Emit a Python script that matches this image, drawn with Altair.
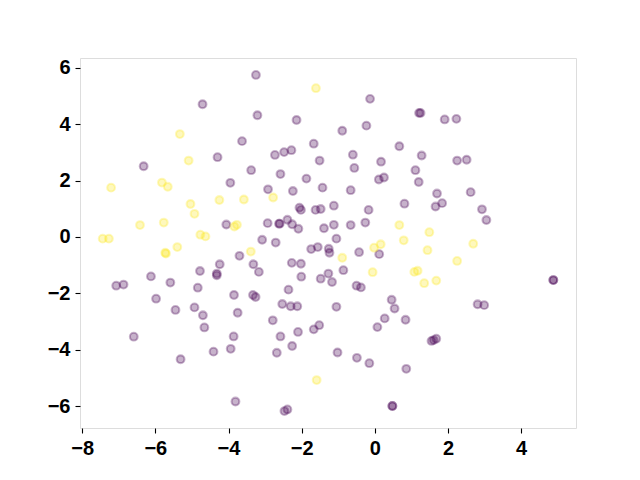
import altair as alt
import pandas as pd

# class 0 (purple) points
purple_x = [-4.71, -3.63, -4.30, -6.32, -3.95,
            -3.25, -0.13, -3.21, -2.14, -0.89, -0.23, -1.67, 0.67, -2.73, -2.48, -2.28, -0.60, -1.51, 0.17,
            -3.38, -2.58, -0.56, -1.87, 0.11, 0.25,
            1.21, 1.25, 1.91, 2.23, 1.28, 2.25, 2.51, 1.11, 1.20,
            -4.06, -3.70, -4.24, -4.32, -4.32, -4.78, -6.12, -7.07, -6.87, -5.59, -4.84, -3.85, -5.98, -4.93,
            -2.92, -2.24, -1.43, -0.66, 0.81, -2.06, -2.02, -1.62, -1.48, -1.12, -0.17, -2.93, -2.62, -2.60,
            -2.39, -2.26, -2.09, -1.39, -1.12, -0.66, -0.26, -3.08, -2.71, -1.05, -1.74, -1.56, -1.26, -1.24,
            -0.43, 0.12, -3.32, -3.17, -2.27, -2.02, -2.01, -1.48, -1.27, -1.17, -0.86, -2.36, -0.50, -0.38,
            -3.33, -3.26, 0.46, -2.53, -2.30, -2.12, -1.05, 0.54,
            1.70, 2.62, 1.66, 1.84, 2.93, 3.05, 4.88, 4.88, 2.81, 2.99,
            -5.45, -4.70, -3.75, -4.66, -6.59, -3.86, -3.94, -4.41, -5.31, -3.81,
            0.27, 0.84, 0.07, -2.79, -2.58, -2.10, -1.67, -1.52, -2.68, -2.26, -1.02, -0.49, -0.15, 0.86,
            -2.47, -2.39, 0.48, 0.48,
            1.55, 1.61, 1.68]
purple_y = [4.71, 3.40, 2.83, 2.51, 1.92,
            5.75, 4.90, 4.32, 4.15, 3.77, 3.95, 3.31, 3.22, 2.91, 3.01, 3.08, 2.92, 2.71, 2.67,
            2.37, 2.23, 2.45, 2.07, 2.04, 2.11,
            4.40, 4.40, 4.17, 4.19, 2.89, 2.71, 2.74, 2.37, 1.95,
            0.44, -0.67, -0.97, -1.30, -1.36, -1.21, -1.40, -1.73, -1.69, -1.62, -1.80, -2.06, -2.19, -2.50,
            1.69, 1.63, 1.75, 1.66, 1.18, 1.04, 0.96, 0.96, 0.99, 1.11, 0.96, 0.49, 0.47, 0.47,
            0.61, 0.45, 0.29, 0.31, 0.43, 0.42, 0.51, -0.10, -0.20, -0.06, -0.43, -0.36, -0.42, -0.56,
            -0.54, -0.61, -0.97, -1.24, -0.92, -0.95, -1.41, -1.48, -1.30, -1.60, -1.18, -1.87, -1.73, -1.79,
            -2.06, -2.13, -2.23, -2.38, -2.46, -2.46, -2.48, -2.54,
            1.54, 1.59, 1.08, 1.20, 0.98, 0.60, -1.53, -1.53, -2.39, -2.42,
            -2.59, -2.78, -2.69, -3.21, -3.54, -3.53, -3.97, -4.07, -4.34, -5.84,
            -2.89, -2.94, -3.20, -2.96, -3.53, -3.37, -3.28, -3.13, -4.11, -3.87, -4.10, -4.29, -4.48, -4.68,
            -6.18, -6.12, -6.00, -6.00,
            -3.69, -3.66, -3.61]

# class 1 (yellow) points
yellow_x = [-5.33, -5.09, -5.82, -1.61,
            -7.21, -5.66, -4.25, -3.58, -5.04, -4.93, -6.42, -5.77, -3.84, -3.77, -7.44, -7.27, -4.77, -4.63,
            -5.40, -5.73, -5.71,
            -2.78, 0.67, 0.79, -0.89, -0.02, 0.16, -3.39, -0.06,
            1.49, 2.69, 1.44, 2.25, 1.08, 1.17, 1.35, 1.68,
            -1.59]
yellow_y = [3.65, 2.71, 1.93, 5.28,
            1.75, 1.78, 1.31, 1.33, 1.17, 0.82, 0.42, 0.51, 0.37, 0.43, -0.06, -0.06, 0.08, 0.02,
            -0.36, -0.56, -0.59,
            1.40, 0.42, -0.12, -0.74, -0.38, -0.26, -0.52, -1.25,
            0.17, -0.24, -0.47, -0.85, -1.24, -1.20, -1.64, -1.55,
            -5.08]

classes = ["0", "1"]
class_colors = ["#440154", "#fde725"]
x_ticks = [-8, -6, -4, -2, 0, 2, 4]
y_ticks = [-6, -4, -2, 0, 2, 4, 6]

df = pd.concat([
    pd.DataFrame({"x": purple_x, "y": purple_y, "c": classes[0]}),
    pd.DataFrame({"x": yellow_x, "y": yellow_y, "c": classes[1]}),
], ignore_index=True)

col_scale = alt.Scale(domain=classes, range=class_colors)

axis_common = dict(
    grid=False, domain=False, tickColor="black", tickWidth=1.1, tickSize=5,
    labelFont="Liberation Sans", labelFontWeight="bold", labelFontSize=20,
    labelColor="black", labelPadding=5, title=None,
)

chart = alt.Chart(df).mark_point(
    filled=True, shape="circle", size=60, strokeWidth=2.1,
    fillOpacity=0.3, strokeOpacity=0.3,
).encode(
    x=alt.X("x:Q", scale=alt.Scale(domain=[-8.06, 5.50], nice=False, zero=False),
            axis=alt.Axis(values=x_ticks, labelFlush=False, **axis_common)),
    y=alt.Y("y:Q", scale=alt.Scale(domain=[-6.78, 6.35], nice=False, zero=False),
            axis=alt.Axis(values=y_ticks, **axis_common)),
    fill=alt.Fill("c:N", scale=col_scale, legend=None),
    stroke=alt.Stroke("c:N", scale=col_scale, legend=None),
).properties(
    width=496, height=370,
    autosize=alt.AutoSizeParams(type="none"),
    padding={"left": 72, "top": 50, "right": 54, "bottom": 44},
).configure_view(
    stroke="black", strokeWidth=1.1,
).configure(background="white")

chart.save("out.html", embed_options={"renderer": "svg", "actions": False})
